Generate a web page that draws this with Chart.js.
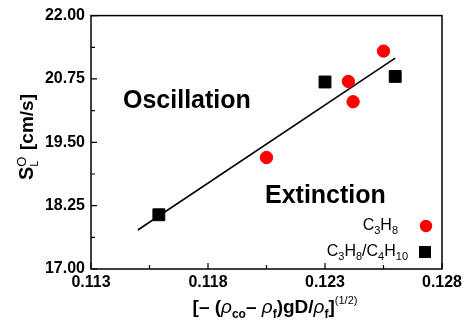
<!DOCTYPE html>
<html lang="en">
<head>
<meta charset="UTF-8">
<title>S_L vs buoyancy parameter</title>
<script src="https://cdn.jsdelivr.net/npm/chart.js"></script>
<style>
  html, body { margin: 0; padding: 0; background: #fff; }
  #wrap { width: 470px; height: 328px; }
</style>
</head>
<body>
<div id="wrap"><canvas id="chart" width="470" height="328"></canvas></div>
<script>
// data
const c3h8X = [0.1205, 0.1240, 0.1242, 0.1255];
const c3h8Y = [19.20, 20.70, 20.30, 21.30];
const mixX = [0.1159, 0.1230, 0.1260];
const mixY = [18.07, 20.69, 20.80];
const fitX = [0.1150, 0.1260];
const fitY = [17.77, 21.16];
const xTicks = [0.113, 0.118, 0.123, 0.128];
const yTicks = [17.00, 18.25, 19.50, 20.75, 22.00];

const FONT = '"Liberation Sans", Arial, sans-serif';
const toPts = (xs, ys) => xs.map((x, i) => ({ x: x, y: ys[i] }));

// draws a row of text pieces, some sub/superscript
function drawRich(ctx, segs, x, y, align) {
  let total = 0;
  segs.forEach(s => {
    ctx.font = s.font;
    s.w = ctx.measureText(s.t).width;
    if (!s.stack) total += s.w;
  });
  let cx = align === 'center' ? x - total / 2 : (align === 'right' ? x - total : x);
  let lastX = cx;
  segs.forEach(s => {
    ctx.font = s.font;
    const px = s.stack ? lastX : cx;
    ctx.fillText(s.t, px, y + (s.dy || 0));
    if (!s.stack) { lastX = cx; cx += s.w; }
  });
}

const decor = {
  id: 'decor',
  afterDraw(chart) {
    const ctx = chart.ctx;
    const a = chart.chartArea;
    const xs = chart.scales.x, ys = chart.scales.y;
    ctx.save();
    ctx.strokeStyle = '#000';
    ctx.fillStyle = '#000';
    ctx.lineWidth = 1.5;
    ctx.strokeRect(a.left, a.top, a.right - a.left, a.bottom - a.top);

    // inward ticks, major + minor
    ctx.lineWidth = 1.2;
    ctx.beginPath();
    for (let i = 0; i < xTicks.length; i++) {
      const p = xs.getPixelForValue(xTicks[i]);
      ctx.moveTo(p, a.bottom); ctx.lineTo(p, a.bottom - 6);
      if (i < xTicks.length - 1) {
        const m = xs.getPixelForValue((xTicks[i] + xTicks[i + 1]) / 2);
        ctx.moveTo(m, a.bottom); ctx.lineTo(m, a.bottom - 4);
      }
    }
    for (let i = 0; i < yTicks.length; i++) {
      const p = ys.getPixelForValue(yTicks[i]);
      ctx.moveTo(a.left, p); ctx.lineTo(a.left + 6, p);
      if (i < yTicks.length - 1) {
        const m = ys.getPixelForValue((yTicks[i] + yTicks[i + 1]) / 2);
        ctx.moveTo(a.left, m); ctx.lineTo(a.left + 4, m);
      }
    }
    ctx.stroke();

    // region labels
    ctx.textBaseline = 'alphabetic';
    ctx.textAlign = 'left';
    ctx.font = 'bold 25px ' + FONT;
    ctx.fillText('Oscillation', 123, 108);
    ctx.fillText('Extinction', 265, 203);

    // legend
    const reg = '16px ' + FONT, sub = '11px ' + FONT;
    drawRich(ctx, [
      { t: 'C', font: reg }, { t: '3', font: sub, dy: 4 },
      { t: 'H', font: reg }, { t: '8', font: sub, dy: 4 }
    ], 398, 230, 'right');
    drawRich(ctx, [
      { t: 'C', font: reg }, { t: '3', font: sub, dy: 4 },
      { t: 'H', font: reg }, { t: '8', font: sub, dy: 4 },
      { t: '/C', font: reg }, { t: '4', font: sub, dy: 4 },
      { t: 'H', font: reg }, { t: '10', font: sub, dy: 4 }
    ], 408, 256, 'right');
    ctx.fillStyle = '#ff0000';
    ctx.beginPath(); ctx.arc(426, 226, 6.2, 0, Math.PI * 2); ctx.fill();
    ctx.fillStyle = '#000';
    ctx.fillRect(419, 246, 12, 12);

    // x axis title
    const tb = 'bold 19px ' + FONT, ti = 'italic 19px ' + FONT, ts = 'bold 12px ' + FONT;
    drawRich(ctx, [
      { t: '[\u2013 (', font: tb }, { t: '\u03c1', font: ti }, { t: 'co', font: ts, dy: 5 },
      { t: '\u2013 ', font: tb }, { t: '\u03c1', font: ti }, { t: 'f', font: ts, dy: 5 },
      { t: ')gD/', font: tb }, { t: '\u03c1', font: ti }, { t: 'f', font: ts, dy: 5 },
      { t: ']', font: tb }, { t: '(1/2)', font: '11px ' + FONT, dy: -9 }
    ], 275, 313, 'center');

    // y axis title, rotated
    ctx.translate(33, 137);
    ctx.rotate(-Math.PI / 2);
    drawRich(ctx, [
      { t: 'S', font: 'bold 20px ' + FONT },
      { t: 'L', font: '11px ' + FONT, dy: 5 },
      { t: 'O', font: '13px ' + FONT, dy: -7, stack: true },
      { t: '  [cm/s]', font: 'bold 19px ' + FONT }
    ], 0, 0, 'center');
    ctx.restore();
  }
};

new Chart(document.getElementById('chart'), {
  type: 'scatter',
  data: {
    datasets: [
      {
        label: 'fit',
        data: toPts(fitX, fitY),
        showLine: true,
        borderColor: '#000',
        borderWidth: 1.6,
        pointRadius: 0,
        order: 3
      },
      {
        label: 'C3H8',
        data: toPts(c3h8X, c3h8Y),
        backgroundColor: '#ff0000',
        borderColor: '#ff0000',
        pointStyle: 'circle',
        pointRadius: 6.2,
        order: 1
      },
      {
        label: 'C3H8/C4H10',
        data: toPts(mixX, mixY),
        backgroundColor: '#000',
        borderColor: '#000',
        pointStyle: 'rect',
        pointRadius: 8.4,
        order: 1
      }
    ]
  },
  options: {
    responsive: false,
    animation: false,
    layout: { padding: { top: 12, right: 28, left: 0, bottom: 0 } },
    plugins: { legend: { display: false }, tooltip: { enabled: false } },
    scales: {
      x: {
        type: 'linear',
        min: 0.113,
        max: 0.128,
        afterBuildTicks: s => { s.ticks = xTicks.map(v => ({ value: v })); },
        afterFit: s => { s.height = 59; },
        grid: { display: false, drawTicks: false },
        border: { display: false },
        ticks: {
          autoSkip: false,
          maxRotation: 0,
          padding: 4,
          color: '#000',
          font: { family: FONT, size: 16, weight: 'bold' },
          callback: v => v.toFixed(3)
        }
      },
      y: {
        type: 'linear',
        min: 17,
        max: 22,
        afterBuildTicks: s => { s.ticks = yTicks.map(v => ({ value: v })); },
        afterFit: s => { s.width = 91; },
        grid: { display: false, drawTicks: false },
        border: { display: false },
        ticks: {
          autoSkip: false,
          padding: 6,
          color: '#000',
          font: { family: FONT, size: 16, weight: 'bold' },
          callback: v => v.toFixed(2)
        }
      }
    }
  },
  plugins: [decor]
});
</script>
</body>
</html>
